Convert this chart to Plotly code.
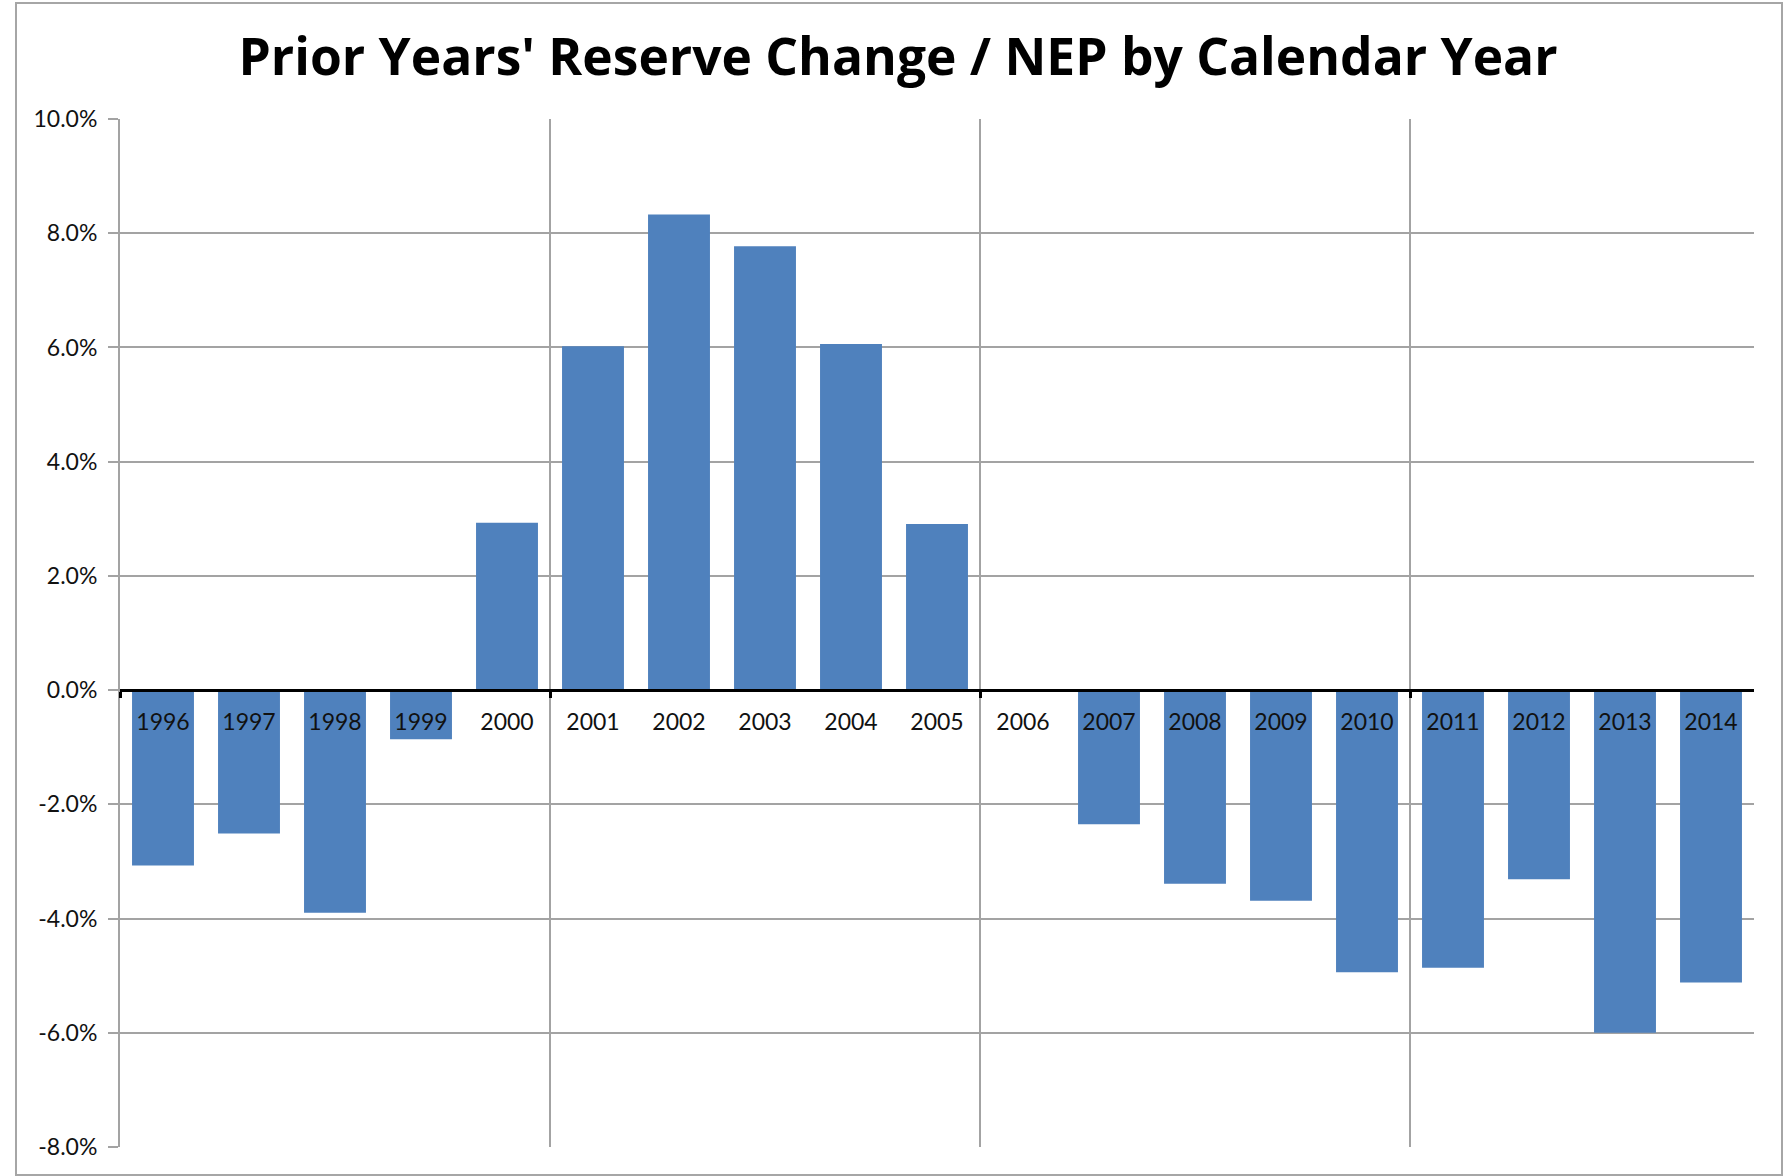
import plotly.graph_objects as go

# ---- data ----
years = [1996, 1997, 1998, 1999, 2000, 2001, 2002, 2003, 2004, 2005,
         2006, 2007, 2008, 2009, 2010, 2011, 2012, 2013, 2014]
reserve_change_pct = [-3.07, -2.51, -3.90, -0.86, 2.93, 6.02, 8.33, 7.77, 6.06, 2.91,
                      0.0, -2.35, -3.39, -3.69, -4.94, -4.86, -3.31, -6.00, -5.12]
y_tick_values = [-8, -6, -4, -2, 0, 2, 4, 6, 8, 10]
y_tick_labels = ["-8.0%", "-6.0%", "-4.0%", "-2.0%", "0.0%", "2.0%", "4.0%", "6.0%", "8.0%", "10.0%"]
year_group_boundaries = [1995.5, 2000.5, 2005.5, 2010.5]
title_text = "Prior Years' Reserve Change / NEP by Calendar Year"

GRID = "#a3a3a3"
FONT = "Lato"

fig = go.Figure(
    go.Bar(
        x=years,
        y=reserve_change_pct,
        marker=dict(color="#4f81bd", line=dict(width=0)),
        width=0.72,
        hoverinfo="x+y",
    )
)

fig.update_layout(
    width=1784,
    height=1176,
    margin=dict(l=120, r=30, t=119, b=29),
    paper_bgcolor="white",
    plot_bgcolor="white",
    showlegend=False,
    title=dict(
        text=title_text,
        x=0.5034,
        xref="container",
        xanchor="center",
        y=1 - 57 / 1176,
        yref="container",
        yanchor="middle",
        font=dict(family="Open Sans", size=51.5, color="black", weight="bold"),
    ),
    xaxis=dict(
        range=[1995.5, 2014.5],
        tickvals=years,
        ticktext=[str(y) for y in years],
        anchor="free",
        position=8 / 18,
        showgrid=False,
        zeroline=False,
        showline=True,
        linecolor="black",
        linewidth=3,
        ticks="",
        ticklabelstandoff=10,
        tickfont=dict(family=FONT, size=23, color="#111111"),
        minor=dict(
            tickvals=year_group_boundaries,
            showgrid=True,
            gridcolor=GRID,
            gridwidth=2,
            ticks="outside",
            ticklen=6,
            tickwidth=3,
            tickcolor="black",
        ),
        fixedrange=True,
    ),
    yaxis=dict(
        range=[-8, 10],
        tickvals=y_tick_values,
        ticktext=y_tick_labels,
        showgrid=True,
        gridcolor=GRID,
        gridwidth=2,
        zeroline=False,
        showline=True,
        linecolor=GRID,
        linewidth=2,
        ticks="outside",
        ticklen=10,
        tickwidth=2,
        tickcolor=GRID,
        ticklabelstandoff=6,
        tickfont=dict(family=FONT, size=23, color="#111111"),
        fixedrange=True,
    ),
    shapes=[
        dict(
            type="rect",
            xref="paper",
            yref="paper",
            x0=(16 - 120) / 1634,
            x1=(1782 - 120) / 1634,
            y0=(1147 - 1175) / 1028,
            y1=(1147 - 3) / 1028,
            line=dict(color="#a6a6a6", width=2),
            fillcolor="rgba(0,0,0,0)",
            layer="below",
        )
    ],
)

fig.write_html("out.html")
